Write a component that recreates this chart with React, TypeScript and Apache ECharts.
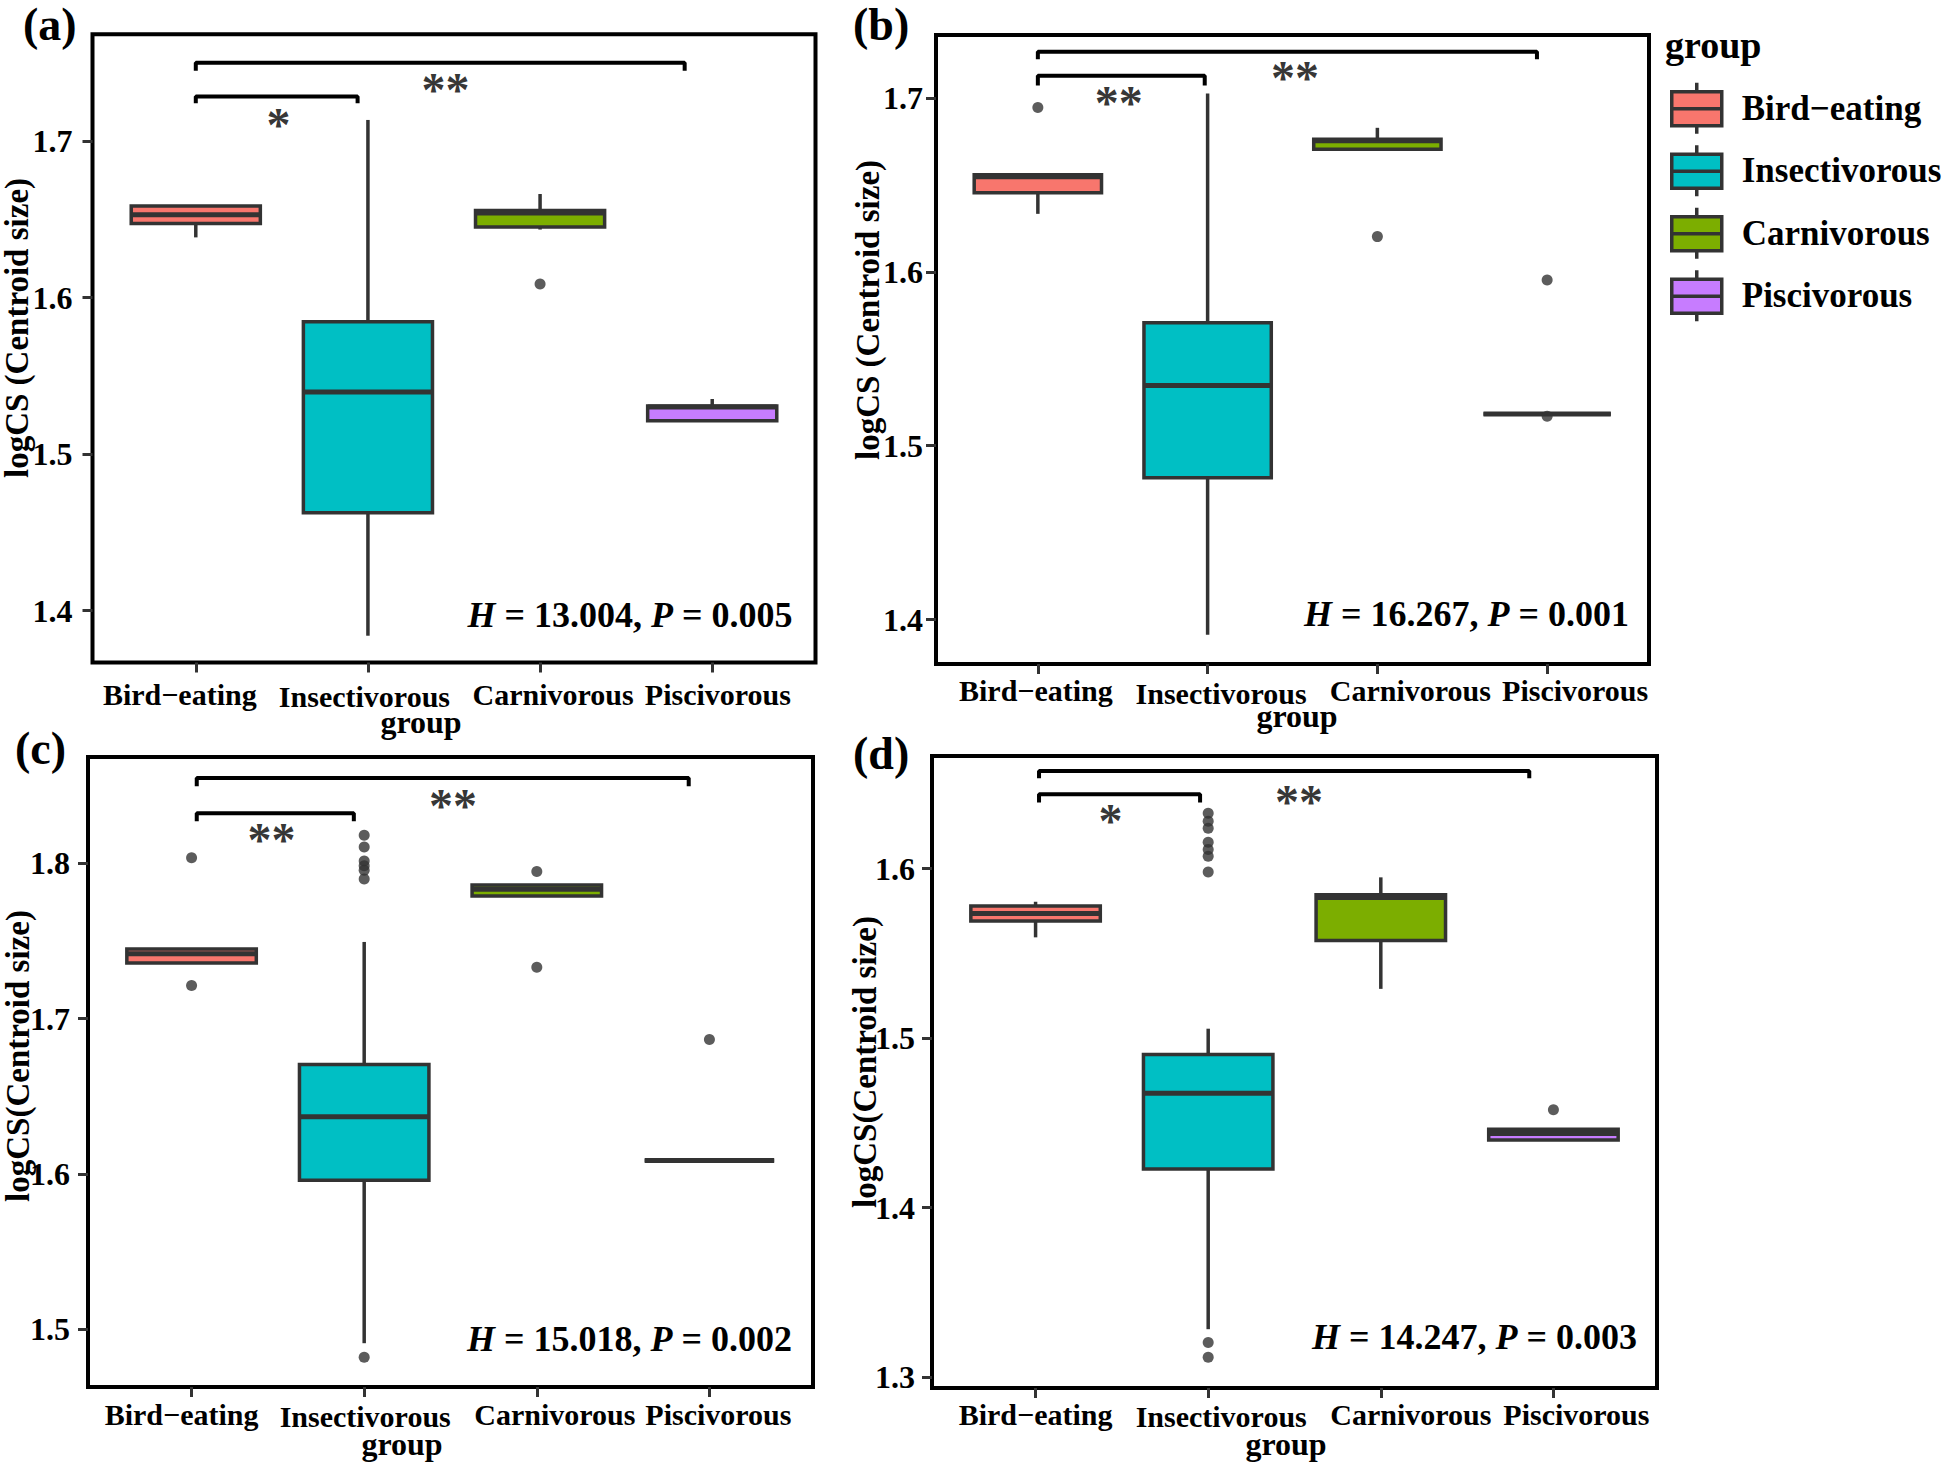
import React, { useEffect, useRef } from 'react';
import * as echarts from 'echarts';

const FONT = "'Liberation Serif', 'Times New Roman', serif";

const GROUPS = ['Bird\u2212eating', 'Insectivorous', 'Carnivorous', 'Piscivorous'];
const GROUP_X = [1, 2, 3, 4];
const COLORS = ['#F8766D', '#00BFC4', '#7CAE00', '#C77CFF'];

// five-number summaries [min, Q1, median, Q3, max] per group
const BOX_A = [
  [1.6384, 1.6473, 1.6528, 1.6584, 1.6584],
  [1.384, 1.4626, 1.5397, 1.5845, 1.7134],
  [1.6434, 1.645, 1.654, 1.6555, 1.6661],
  [1.5213, 1.5213, 1.53, 1.5307, 1.5352],
];
const BOX_B = [
  [1.6334, 1.6456, 1.6548, 1.6559, 1.6559],
  [1.3913, 1.4816, 1.5346, 1.5708, 1.7027],
  [1.6706, 1.6706, 1.6755, 1.6763, 1.6829],
  [1.5183, 1.5183, 1.5183, 1.5183, 1.5183],
];
const BOX_C = [
  [1.7358, 1.7358, 1.7418, 1.7448, 1.7448],
  [1.491, 1.5959, 1.6369, 1.6704, 1.7494],
  [1.779, 1.779, 1.7833, 1.7861, 1.7861],
  [1.6086, 1.6086, 1.6086, 1.6086, 1.6086],
];
const BOX_D = [
  [1.5594, 1.5691, 1.5735, 1.5779, 1.5804],
  [1.3282, 1.4227, 1.4674, 1.4903, 1.5055],
  [1.529, 1.5575, 1.5829, 1.5845, 1.5948],
  [1.4398, 1.4398, 1.4436, 1.4461, 1.4461],
];

// outliers [group position, value]
const OUT_A = [[3, 1.6087]];
const OUT_B = [[1, 1.6946], [3, 1.6203], [4, 1.5953], [4, 1.517]];
const OUT_C = [
  [1, 1.8036], [1, 1.7213],
  [2, 1.8181], [2, 1.8106], [2, 1.8015], [2, 1.7985], [2, 1.7955], [2, 1.79], [2, 1.4819],
  [3, 1.7947], [3, 1.7331],
  [4, 1.6866],
];
const OUT_D = [
  [2, 1.6326], [2, 1.6279], [2, 1.6238], [2, 1.6155], [2, 1.6113], [2, 1.6072], [2, 1.598],
  [2, 1.3204], [2, 1.3116],
  [4, 1.4577],
];

// significance brackets [x start, x end, bar value, tip value]
const BRACKETS_A = [[1, 1.94, 1.7283, 1.7241], [1, 3.84, 1.75, 1.7448]];
const BRACKETS_B = [[1, 1.983, 1.7128, 1.7073], [1, 3.94, 1.7267, 1.7223]];
const BRACKETS_C = [[1.03, 1.94, 1.8323, 1.8271], [1.03, 3.88, 1.8549, 1.8497]];
const BRACKETS_D = [[1.02, 1.953, 1.6439, 1.639], [1.02, 3.86, 1.6575, 1.6533]];

// significance stars [x, value, text]
const STARS_A: [number, number, string][] = [[1.48, 1.7144, '*'], [2.45, 1.7368, '**']];
const STARS_B: [number, number, string][] = [[1.476, 1.7014, '**'], [2.515, 1.7158, '**']];
const STARS_C: [number, number, string][] = [[1.463, 1.8196, '**'], [2.514, 1.8416, '**']];
const STARS_D: [number, number, string][] = [[1.434, 1.632, '*'], [2.526, 1.6436, '**']];

// Kruskal-Wallis H and P
const STAT_A = ['13.004', '0.005'];
const STAT_B = ['16.267', '0.001'];
const STAT_C = ['15.018', '0.002'];
const STAT_D = ['14.247', '0.003'];

const YTICKS_A = [1.4, 1.5, 1.6, 1.7];
const YTICKS_B = [1.4, 1.5, 1.6, 1.7];
const YTICKS_C = [1.5, 1.6, 1.7, 1.8];
const YTICKS_D = [1.3, 1.4, 1.5, 1.6];

const YRANGE_A = [1.3669, 1.7681];
const YRANGE_B = [1.3744, 1.7363];
const YRANGE_C = [1.4628, 1.8685];
const YRANGE_D = [1.2935, 1.6664];

const PANELS = [
  { box: BOX_A, out: OUT_A, br: BRACKETS_A, stars: STARS_A, stat: STAT_A, yTicks: YTICKS_A, yRange: YRANGE_A, yTitle: 'logCS (Centroid size)', letter: '(a)' },
  { box: BOX_B, out: OUT_B, br: BRACKETS_B, stars: STARS_B, stat: STAT_B, yTicks: YTICKS_B, yRange: YRANGE_B, yTitle: 'logCS (Centroid size)', letter: '(b)' },
  { box: BOX_C, out: OUT_C, br: BRACKETS_C, stars: STARS_C, stat: STAT_C, yTicks: YTICKS_C, yRange: YRANGE_C, yTitle: 'logCS(Centroid size)', letter: '(c)' },
  { box: BOX_D, out: OUT_D, br: BRACKETS_D, stars: STARS_D, stat: STAT_D, yTicks: YTICKS_D, yRange: YRANGE_D, yTitle: 'logCS(Centroid size)', letter: '(d)' },
];

// layout (pixels)
const LAYOUT = [
  { grid: { left: 92.5, top: 34.3, width: 723, height: 628.2 }, letter: [23, 24.5], yTitle: [16.5, 328], xTitle: [421, 722], stat: [792.5, 614.5], labelShift: [-16, -3.5, 13, 5.7], xMargin: 16.7, yMargin: 20 },
  { grid: { left: 936, top: 35, width: 713, height: 629 }, letter: [853, 24.5], yTitle: [868, 310], xTitle: [1297, 716], stat: [1629, 613.5], labelShift: [-2, 13.5, 33, 28], xMargin: 11.5, yMargin: 13 },
  { grid: { left: 88, top: 757, width: 725, height: 630 }, letter: [15, 748], yTitle: [18, 1056], xTitle: [402, 1444], stat: [792, 1338.5], labelShift: [-10, 1, 18, 9], xMargin: 12, yMargin: 18 },
  { grid: { left: 932, top: 756, width: 725, height: 632 }, letter: [853, 753], yTitle: [865, 1062], xTitle: [1286, 1444], stat: [1637, 1336.5], labelShift: [0, 13, 30, 23], xMargin: 11, yMargin: 17 },
];

const BOX_WIDTH = 0.75;
const LEGEND_ICON = 'path://M0,9L50,9L50,43L0,43Z M0,26L50,26 M25,0L25,9 M25,43L25,51';

const renderBox = (params: any, api: any) => {
  const x = api.value(0);
  const mn = api.coord([x, api.value(1)]);
  const q1 = api.coord([x, api.value(2)]);
  const md = api.coord([x, api.value(3)]);
  const q3 = api.coord([x, api.value(4)]);
  const mx = api.coord([x, api.value(5)]);
  const w = api.size([BOX_WIDTH, 0])[0];
  const stroke = { stroke: '#333', lineWidth: 3.5 };
  return {
    type: 'group',
    children: [
      { type: 'line', shape: { x1: mn[0], y1: mn[1], x2: q1[0], y2: q1[1] }, style: stroke },
      { type: 'line', shape: { x1: q3[0], y1: q3[1], x2: mx[0], y2: mx[1] }, style: stroke },
      {
        type: 'rect',
        shape: { x: q1[0] - w / 2, y: q3[1], width: w, height: q1[1] - q3[1] },
        style: { fill: api.visual('color'), stroke: '#333', lineWidth: 3.5 },
      },
      { type: 'line', shape: { x1: md[0] - w / 2, y1: md[1], x2: md[0] + w / 2, y2: md[1] }, style: { stroke: '#333', lineWidth: 5 } },
    ],
  };
};

function buildOption() {
  const grids: any[] = [];
  const xAxes: any[] = [];
  const yAxes: any[] = [];
  const series: any[] = [];
  const graphics: any[] = [];

  PANELS.forEach((p, i) => {
    const L = LAYOUT[i];
    grids.push({ ...L.grid, show: true, borderColor: '#000', borderWidth: 4, backgroundColor: 'transparent' });

    const rich: any = {};
    GROUPS.forEach((g, k) => {
      const dx = L.labelShift[k];
      const dy = k === 1 ? 2.5 : 0;
      rich['s' + k] = {
        fontSize: 30, fontWeight: 'bold', fontFamily: FONT, color: '#000',
        padding: dx >= 0 ? [dy, 0, 0, 2 * dx] : [dy, -2 * dx, 0, 0],
      };
    });

    xAxes.push({
      type: 'value', gridIndex: i, min: 0.4, max: 4.6,
      axisLine: { show: false }, splitLine: { show: false },
      axisTick: { show: true, customValues: GROUP_X, length: 10, lineStyle: { color: '#333', width: 3 } },
      axisLabel: {
        customValues: GROUP_X, margin: L.xMargin,
        fontSize: 30, fontWeight: 'bold', fontFamily: FONT, color: '#000',
        formatter: (v: number) => {
          const k = Math.round(v) - 1;
          return `{s${k}|${GROUPS[k]}}`;
        },
        rich,
      },
    });

    yAxes.push({
      type: 'value', gridIndex: i, min: p.yRange[0], max: p.yRange[1],
      axisLine: { show: false }, splitLine: { show: false },
      axisTick: { show: true, customValues: p.yTicks, length: 10, lineStyle: { color: '#333', width: 3 } },
      axisLabel: {
        customValues: p.yTicks, margin: L.yMargin,
        fontSize: 32, fontWeight: 'bold', fontFamily: FONT, color: '#000',
        formatter: (v: number) => v.toFixed(1),
      },
    });

    p.box.forEach((b, k) => {
      series.push({
        type: 'custom', name: GROUPS[k], xAxisIndex: i, yAxisIndex: i,
        itemStyle: { color: COLORS[k] },
        renderItem: renderBox,
        encode: { x: 0, y: [1, 2, 3, 4, 5] },
        data: [[GROUP_X[k], ...b]],
        z: 2, silent: true,
      });
    });

    series.push({
      type: 'scatter', name: 'outliers', xAxisIndex: i, yAxisIndex: i,
      data: p.out, symbol: 'circle', symbolSize: 11,
      itemStyle: { color: '#333' }, z: 4, silent: true,
    });

    p.br.forEach((b) => {
      series.push({
        type: 'line', name: 'bracket', xAxisIndex: i, yAxisIndex: i,
        data: [[b[0], b[3]], [b[0], b[2]], [b[1], b[2]], [b[1], b[3]]],
        symbol: 'none', lineStyle: { color: '#000', width: 4 }, z: 3, silent: true,
      });
    });

    series.push({
      type: 'scatter', name: 'stars', xAxisIndex: i, yAxisIndex: i,
      data: p.stars.map((s) => ({ value: [s[0], s[1]], name: s[2] })),
      symbol: 'circle', symbolSize: 1, itemStyle: { color: 'rgba(0,0,0,0)' },
      label: {
        show: true, position: 'inside', formatter: '{b}', offset: [0, 6.5],
        fontSize: 48, fontWeight: 'bold', fontFamily: FONT, color: '#000',
      },
      z: 5, silent: true,
    });

    graphics.push({
      type: 'text', x: L.letter[0], y: L.letter[1],
      style: { text: p.letter, fontSize: 46, fontWeight: 'bold', fontFamily: FONT, fill: '#000', align: 'left', verticalAlign: 'middle' },
    });
    graphics.push({
      type: 'text', x: L.yTitle[0], y: L.yTitle[1], rotation: Math.PI / 2,
      style: { text: p.yTitle, fontSize: 33, fontWeight: 'bold', fontFamily: FONT, fill: '#000', align: 'center', verticalAlign: 'middle' },
    });
    graphics.push({
      type: 'text', x: L.xTitle[0], y: L.xTitle[1],
      style: { text: 'group', fontSize: 32, fontWeight: 'bold', fontFamily: FONT, fill: '#000', align: 'center', verticalAlign: 'middle' },
    });
    graphics.push({
      type: 'text', x: L.stat[0], y: L.stat[1],
      style: {
        text: `{i|H} = ${p.stat[0]}, {i|P} = ${p.stat[1]}`,
        fontSize: 36, fontWeight: 'bold', fontFamily: FONT, fill: '#000', align: 'right', verticalAlign: 'middle',
        rich: { i: { fontSize: 36, fontWeight: 'bold', fontStyle: 'italic', fontFamily: FONT, fill: '#000' } },
      },
    });
  });

  graphics.push({
    type: 'text', x: 1665, y: 45,
    style: { text: 'group', fontSize: 38, fontWeight: 'bold', fontFamily: FONT, fill: '#000', align: 'left', verticalAlign: 'middle' },
  });

  return {
    animation: false,
    backgroundColor: '#fff',
    grid: grids,
    xAxis: xAxes,
    yAxis: yAxes,
    series,
    graphic: graphics,
    legend: {
      orient: 'vertical', left: 1670, top: 81, padding: 0,
      itemWidth: 50, itemHeight: 51, itemGap: 8, selectedMode: false,
      data: GROUPS.map((g) => ({ name: g, icon: LEGEND_ICON })),
      itemStyle: { borderColor: '#333', borderWidth: 3.5 },
      textStyle: { fontSize: 35, fontWeight: 'bold', fontFamily: FONT, color: '#000', padding: [0, 0, 0, 15] },
    },
  };
}

export default function App() {
  const ref = useRef<HTMLDivElement>(null);
  useEffect(() => {
    document.body.style.margin = '0';
    if (!ref.current) return;
    const chart = echarts.init(ref.current, null, { renderer: 'svg' });
    chart.setOption(buildOption() as any);
    return () => chart.dispose();
  }, []);
  return <div ref={ref} style={{ width: 1946, height: 1464 }} />;
}
